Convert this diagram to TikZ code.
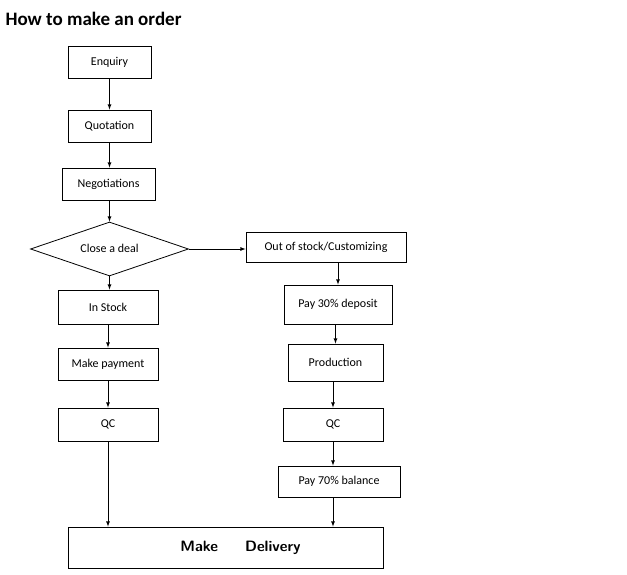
\documentclass[tikz,border=0pt]{standalone}
\usepackage{fontspec}
\setmainfont{Carlito}
\usetikzlibrary{shapes.geometric}
\tikzset{
  box/.style={draw,thick,rectangle,minimum height=#1,inner sep=0pt,font=\fontsize{12}{14}\selectfont},
  box/.default=32pt,
  arr/.style={thick,-latex}
}
\begin{document}
\begin{tikzpicture}[x=1pt,y=-1pt]
	\useasboundingbox (0,0) rectangle (627,575);
	\node[anchor=west,font=\fontsize{19}{22}\selectfont\bfseries] (title) at (2,19) {How to make an order};

	% left column
	\node[box,minimum width=83pt] (enq) at (109.5,62) {Enquiry};
	\node[box,minimum width=83pt] (quo) at (109.5,126) {Quotation};
	\node[box,minimum width=93pt] (neg) at (108.5,184) {Negotiations};
	\node[draw,thick,diamond,aspect=2.9,minimum width=158pt,minimum height=54pt,inner sep=0pt] (deal) at (109.5,249) {};
	\node[font=\fontsize{12}{14}\selectfont] (dealtxt) at (109.5,248) {Close a deal};
	\node[box=34pt,minimum width=100pt] (stock) at (108,307) {In Stock};
	\node[box,minimum width=100pt] (pay) at (108,364) {Make payment};
	\node[box=33pt,minimum width=100pt] (qcl) at (108,424.5) {QC};

	% right column
	\node[box=30pt,minimum width=160pt] (out) at (326,247) {Out of stock/Customizing};
	\node[box=39pt,minimum width=108pt] (dep) at (338,304.5) {Pay 30\% deposit};
	\node[box=37pt,minimum width=95pt] (prod) at (335.5,362.5) {Production};
	\node[box=33pt,minimum width=100pt] (qcr) at (333,424.5) {QC};
	\node[box=31pt,minimum width=122pt] (bal) at (339,481.5) {Pay 70\% balance};

	\node[box=41pt,minimum width=315pt,font=\fontsize{15}{17}\selectfont\sffamily\bfseries] (deliv) at (225.5,547.5) {\hspace{2em}Make\hspace{1.8em}Delivery};

	% connectors
	\draw[arr] (enq.south) -- (enq.south |- quo.north);
	\draw[arr] (quo.south) -- (quo.south |- neg.north);
	\draw[arr] (quo.south |- neg.south) -- (deal.north);
	\draw[arr] (deal.east) -- (out.west |- deal.east);
	\draw[arr] (deal.south) -- (deal.south |- stock.north);
	\draw[arr] (stock) -- (pay);
	\draw[arr] (pay) -- (qcl);
	\draw[arr] (qcl.south) -- (qcl.south |- deliv.north);
	\draw[arr] (dep.north |- out.south) -- (dep.north);
	\draw[arr] (prod.north |- dep.south) -- (prod.north);
	\draw[arr] (qcr.north |- prod.south) -- (qcr.north);
	\draw[arr] (qcr.south) -- (qcr.south |- bal.north);
	\draw[arr] (qcr.south |- bal.south) -- (qcr.south |- deliv.north);
\end{tikzpicture}
\end{document}
